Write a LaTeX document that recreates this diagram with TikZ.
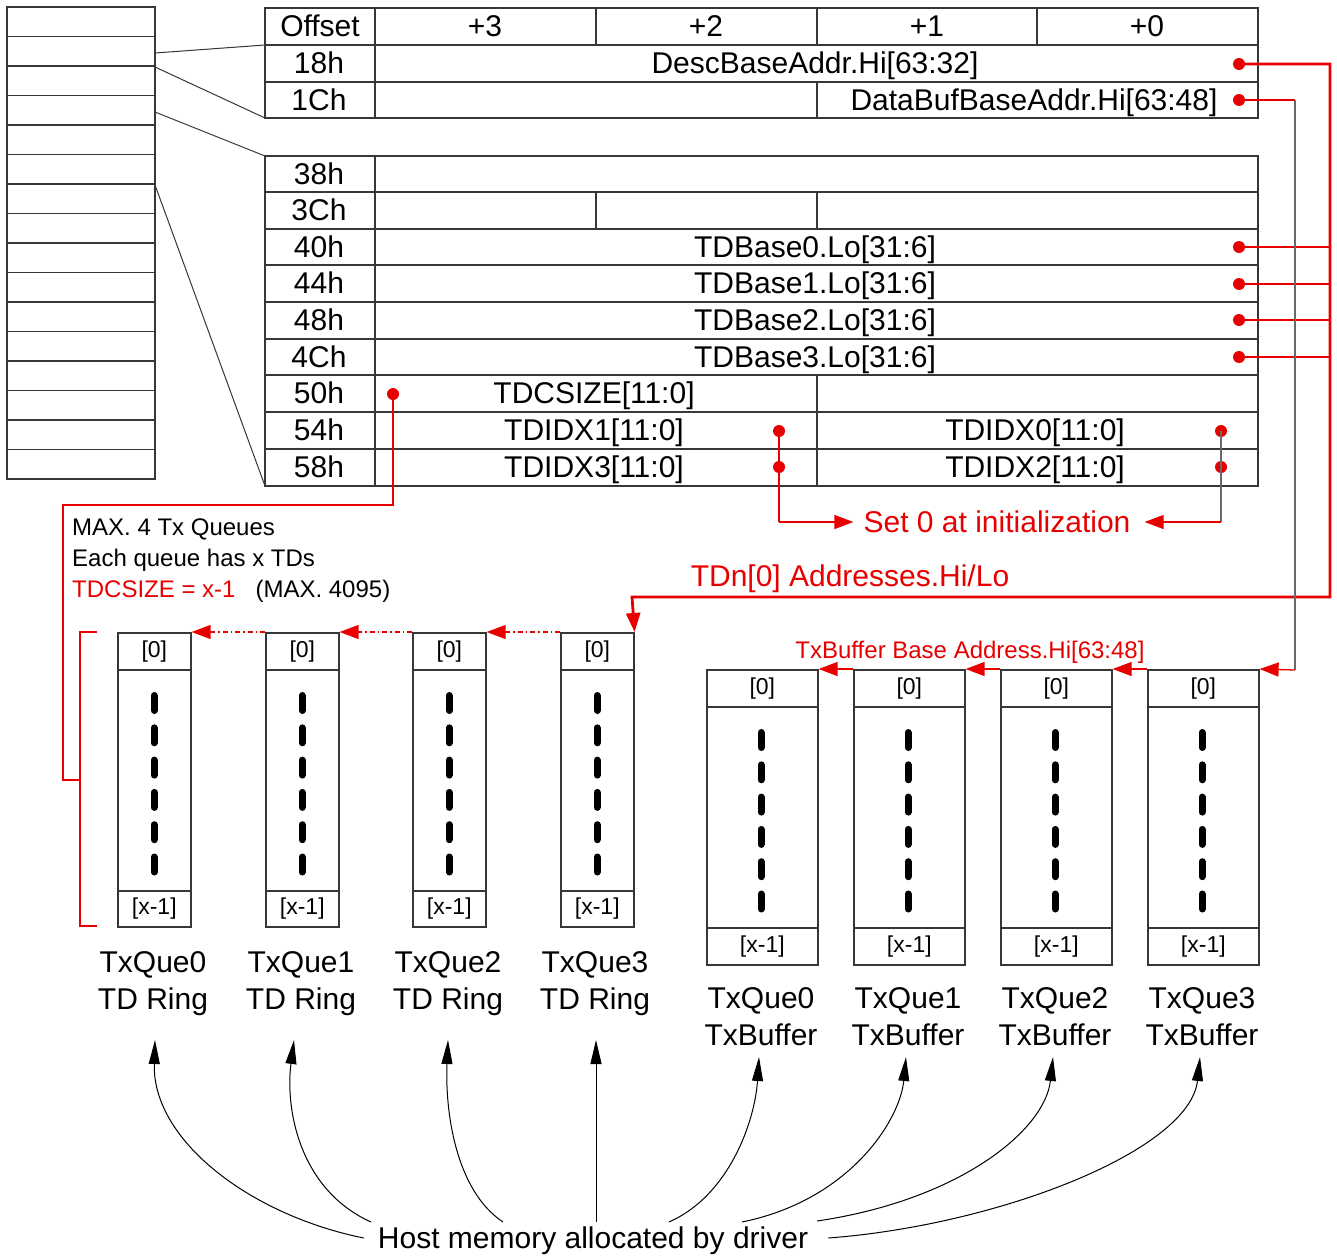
\documentclass[tikz,border=0pt]{standalone}
\usepackage{fontspec}
\setmainfont{Liberation Sans}
\usetikzlibrary{arrows.meta}
\definecolor{rd}{RGB}{232,0,0}
\definecolor{ln}{RGB}{55,55,55}
\definecolor{gl}{RGB}{105,105,105}
\newcommand\fbig{\fontsize{30}{34}\selectfont}
\newcommand\fmid{\fontsize{24}{28}\selectfont}
\newcommand\fsm{\fontsize{23}{26}\selectfont}
\begin{document}
\begin{tikzpicture}[x=1pt,y=-1pt,
  tbl/.style={draw=ln, line width=1.6pt},
  thinl/.style={draw=ln, line width=1pt},
  txt/.style={font=\fbig, inner sep=0pt, text height=21.5pt, text depth=0pt},
  mtxt/.style={font=\fmid, inner sep=0pt, text height=17pt, text depth=0pt},
  dot/.style={circle, fill=rd, inner sep=0pt, minimum size=12pt},
  rl/.style={draw=rd, line width=1.3pt},
  gline/.style={draw=gl, line width=1.1pt},
  rthick/.style={draw=rd, line width=2.8pt},
  rarr/.style={-{Triangle[length=19pt,width=14pt]}},
  rdot/.style={draw=rd, line width=1.3pt, dash pattern=on 5pt off 3pt on 1.5pt off 3pt},
  cell/.style={draw=ln, line width=1.6pt, anchor=north west, inner sep=0pt, font=\fsm},
  bar/.style={draw=black, line width=7pt, line cap=round, dash pattern=on 15pt off 17.3pt},
  harr/.style={draw=black, line width=1pt, -{Triangle[length=24pt,width=11pt]}}
]
\fill[white] (0,0) rectangle (1337,1255);
\useasboundingbox (0,0) rectangle (1337,1255);

% ---------- left memory stack ----------
\draw[tbl] (7,7) rectangle (155,479);
\foreach \k in {1,...,15} \draw[tbl] (7,{7+\k*29.5}) -- (155,{7+\k*29.5});
\draw[thinl] (155,53) -- (265,45);
\draw[thinl] (155,67) -- (265,118);
\draw[thinl] (155,112) -- (265,156);
\draw[thinl] (155,185) -- (265,486);

% ---------- upper register table ----------
\draw[tbl] (265,8) rectangle (1258,118);
\draw[tbl] (265,45) -- (1258,45) (265,82) -- (1258,82);
\draw[tbl] (375,8) -- (375,118);
\draw[tbl] (596,8) -- (596,45) (817,8) -- (817,45) (1037,8) -- (1037,45);
\draw[tbl] (817,82) -- (817,118);

% ---------- lower register table ----------
\draw[tbl] (265,156) rectangle (1258,486);
\foreach \y in {192,229,265,302,339,375,412,449} \draw[tbl] (265,\y) -- (1258,\y);
\draw[tbl] (375,156) -- (375,486);
\draw[tbl] (596,192) -- (596,229);
\draw[tbl] (817,192) -- (817,229) (817,375) -- (817,486);

% ---------- table texts ----------
\node[txt] (hoff) at (320,26) {Offset};
\node[txt] (hp3) at (485,26) {+3};
\node[txt] (hp2) at (706,26) {+2};
\node[txt] (hp1) at (927,26) {+1};
\node[txt] (hp0) at (1147,26) {+0};
\node[txt] (o18) at (319,63) {18h};
\node[txt] (o1C) at (319,99.5) {1Ch};
\node[txt] (o38) at (319,173.5) {38h};
\node[txt] (o3C) at (319,210) {3Ch};
\node[txt] (o40) at (319,246.5) {40h};
\node[txt] (o44) at (319,283) {44h};
\node[txt] (o48) at (319,320) {48h};
\node[txt] (o4C) at (319,356.5) {4Ch};
\node[txt] (o50) at (319,393) {50h};
\node[txt] (o54) at (319,430) {54h};
\node[txt] (o58) at (319,467) {58h};
\node[txt] (tdesc) at (815,63) {DescBaseAddr.Hi[63:32]};
\node[txt] (tdata) at (1034,99.5) {DataBufBaseAddr.Hi[63:48]};
\node[txt] (tb0) at (815,246.5) {TDBase0.Lo[31:6]};
\node[txt] (tb1) at (815,283) {TDBase1.Lo[31:6]};
\node[txt] (tb2) at (815,320) {TDBase2.Lo[31:6]};
\node[txt] (tb3) at (815,356.5) {TDBase3.Lo[31:6]};
\node[txt] (tcs) at (594,393) {TDCSIZE[11:0]};
\node[txt] (ti1) at (594,430) {TDIDX1[11:0]};
\node[txt] (ti3) at (594,467) {TDIDX3[11:0]};
\node[txt] (ti0) at (1035,430) {TDIDX0[11:0]};
\node[txt] (ti2) at (1035,467) {TDIDX2[11:0]};

% ---------- dots ----------
\node[dot] (d18) at (1239,64) {};
\node[dot] (d1C) at (1239,100) {};
\node[dot] (dB0) at (1239,247) {};
\node[dot] (dB1) at (1239,284) {};
\node[dot] (dB2) at (1239,320) {};
\node[dot] (dB3) at (1239,357) {};
\node[dot] (dCS) at (393,394) {};
\node[dot] (dI1) at (779,431) {};
\node[dot] (dI3) at (779,467) {};
\node[dot] (dI0) at (1221,431) {};
\node[dot] (dI2) at (1221,467) {};

% ---------- TD rings ----------
\foreach \L/\n in {117/0,265/1,412/2,560/3} {
  \node[cell, minimum width=73pt, minimum height=37pt] (ra\n) at (\L,632) {[0]};
  \node[cell, minimum width=73pt, minimum height=221pt] (rm\n) at (\L,669) {};
  \node[cell, minimum width=73pt, minimum height=36pt] (rx\n) at (\L,890) {[x-1]};
  \draw[bar] ({\L+37},695.5) -- ({\L+37},872);
}
\node[txt] (rl0a) at (153,962) {TxQue0};
\node[txt] (rl0b) at (153,999) {TD Ring};
\node[txt] (rl1a) at (301,962) {TxQue1};
\node[txt] (rl1b) at (301,999) {TD Ring};
\node[txt] (rl2a) at (448,962) {TxQue2};
\node[txt] (rl2b) at (448,999) {TD Ring};
\node[txt] (rl3a) at (595,962) {TxQue3};
\node[txt] (rl3b) at (595,999) {TD Ring};

% ---------- Tx buffers ----------
\foreach \L/\n in {706/0,853/1,1000/2,1147/3} {
  \node[cell, minimum width=111pt, minimum height=37pt] (ba\n) at (\L,669) {[0]};
  \node[cell, minimum width=111pt, minimum height=221pt] (bm\n) at (\L,706) {};
  \node[cell, minimum width=111pt, minimum height=37pt] (bx\n) at (\L,927) {[x-1]};
  \draw[bar] ({\L+55},732.5) -- ({\L+55},909);
}
\node[txt] (bl0a) at (761,998) {TxQue0};
\node[txt] (bl0b) at (761,1035) {TxBuffer};
\node[txt] (bl1a) at (908,998) {TxQue1};
\node[txt] (bl1b) at (908,1035) {TxBuffer};
\node[txt] (bl2a) at (1055,998) {TxQue2};
\node[txt] (bl2b) at (1055,1035) {TxBuffer};
\node[txt] (bl3a) at (1202,998) {TxQue3};
\node[txt] (bl3b) at (1202,1035) {TxBuffer};

% ---------- red texts and notes ----------
\node[txt, text=rd] (setz) at (997,522) {Set 0 at initialization};
\node[txt, text=rd] (tdn) at (850,576) {TDn[0] Addresses.Hi/Lo};
\node[mtxt, text=rd] (txbb) at (970,650) {TxBuffer Base Address.Hi[63:48]};
\node[mtxt, anchor=west] (n1) at (72,527) {MAX. 4 Tx Queues};
\node[mtxt, anchor=west] (n2) at (72,558) {Each queue has x TDs};
\node[mtxt, anchor=west] (n3) at (72,589) {\textcolor{rd}{TDCSIZE = x-1}\hspace{20pt}(MAX. 4095)};

% ---------- red connectors ----------
\coordinate (busR) at (1330,64);
\coordinate (busB) at (1330,597);
\coordinate (busL) at (632,597);
\draw[rthick, rarr] (d18.center) -- (busR) -- (busB) -- (busL) -- (ra3.north east);
\foreach \d in {dB0,dB1,dB2,dB3} \draw[rl] (\d.center) -- (\d.center -| busR);

\foreach \a/\b in {ra3/ra2,ra2/ra1,ra1/ra0} \draw[rdot, rarr] (\a.north west) -- (\b.north east);
\foreach \a/\b in {ba3/ba2,ba2/ba1,ba1/ba0} \draw[rl, rarr] (\a.north west) -- (\b.north east);

\coordinate (dbR) at (1295,100);
\coordinate (dbB) at (1295,670);
\draw[rl] (d1C.center) -- (dbR);
\draw[gline] (dbR) -- (dbB);
\draw[rl, rarr] (dbB) -- (ba3.north east);

\coordinate (csA) at (393,505);
\coordinate (csB) at (63,505);
\coordinate (csC) at (63,780);
\coordinate (brM) at (80,780);
\draw[rl] (dCS.center) -- (csA) -- (csB) -- (csC) -- (brM);
\draw[rl] (97,632) -- (80,632) -- (80,926) -- (97,926);

\coordinate (i1B) at (779,522);
\coordinate (i0B) at (1221,522);
\draw[rl] (dI1.center) -- (dI3.center) -- (i1B);
\draw[rl, rarr] (i1B) -- ([xshift=-10pt]setz.west);
\draw[gline] (dI0.center) -- (dI2.center) -- (i0B);
\draw[rl, rarr] (i0B) -- ([xshift=14pt]setz.east);

% ---------- host memory arrows ----------
\node[txt] (host) at (593,1238) {Host memory allocated by driver};
\coordinate (t0) at (155,1040);
\coordinate (t1) at (294,1040);
\coordinate (t2) at (448,1040);
\coordinate (t3) at (596,1040);
\coordinate (t4) at (759,1057);
\coordinate (t5) at (906,1057);
\coordinate (t6) at (1053,1057);
\coordinate (t7) at (1200,1057);
\draw[harr] ([xshift=-14pt]host.west) .. controls (250,1215) and (152,1140) .. (t0);
\draw[harr] (371,1222) .. controls (300,1190) and (285,1110) .. (t1);
\draw[harr] (503,1222) .. controls (455,1190) and (445,1110) .. (t2);
\draw[harr] (596,1222) -- (t3);
\draw[harr] (669,1222) .. controls (730,1195) and (755,1120) .. (t4);
\draw[harr] (742,1222) .. controls (850,1200) and (900,1120) .. (t5);
\draw[harr] (817,1221) .. controls (960,1200) and (1045,1130) .. (t6);
\draw[harr] ([xshift=20pt]host.east) .. controls (1000,1225) and (1190,1150) .. (t7);
\end{tikzpicture}
\end{document}
